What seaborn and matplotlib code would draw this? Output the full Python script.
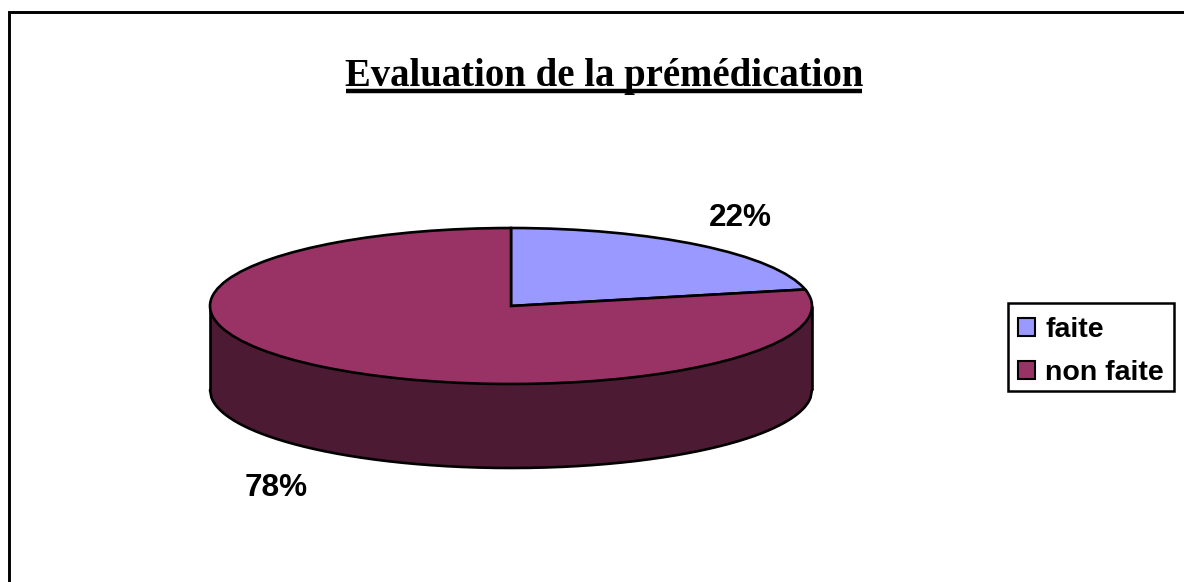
import numpy as np
import matplotlib
matplotlib.use('Agg')
import matplotlib.pyplot as plt
import seaborn as sns
from matplotlib.patches import Rectangle, Patch

labels = ['faite', 'non faite']
values = [21.6, 78.4]
pct_labels = ['22%', '78%']
colors = ['#9999FF', '#993366']
side_color = '#4D1A33'
title = 'Evaluation de la prémédication'

W, H = 1184, 582
sns.set_theme(style='white')
plt.rcParams['font.family'] = ['Liberation Sans', 'DejaVu Sans']

fig = plt.figure(figsize=(W / 100, H / 100), dpi=100, facecolor='white')
ax = fig.add_axes([0, 0, 1, 1])

# pie is drawn as a unit circle, axis limits squash it into the tilted ellipse
cx, cy, rx, ry = 511, 306, 301, 78
depth = 84 / ry

wedges, _ = ax.pie(values, colors=colors, startangle=90, counterclock=False,
                   wedgeprops={'edgecolor': 'black', 'linewidth': 1.9})
for w in wedges:
    w.set_zorder(3)

# front wall of the disc
x = np.linspace(-1, 1, 400)
front = -np.sqrt(1 - x ** 2)
ax.fill_between(x, front, front - depth, color=side_color, lw=0, zorder=1)
ax.plot(x, front - depth, color='black', lw=1.9, zorder=2)
ax.plot([-1, -1], [0, -depth], color='black', lw=1.9, zorder=2, solid_capstyle='butt')
ax.plot([1, 1], [0, -depth], color='black', lw=1.9, zorder=2, solid_capstyle='butt')

ax.set_aspect('auto')
ax.set_xlim(-cx / rx, (W - cx) / rx)
ax.set_ylim((cy - H) / ry, cy / ry)
ax.axis('off')

# percent labels
ax.text((740 - cx) / rx, (cy - 218) / ry, pct_labels[0], fontsize=22.7, fontweight='bold',
        ha='center', va='center', color='black')
ax.text((276 - cx) / rx, (cy - 488) / ry, pct_labels[1], fontsize=22.7, fontweight='bold',
        ha='center', va='center', color='black')

fig.text(604 / W, 1 - 86 / H, title, fontsize=27.9, fontweight='bold', family='Liberation Serif',
         ha='center', va='baseline', color='black')
fig.add_artist(plt.Line2D([346 / W, 862 / W], [1 - 90.5 / H] * 2, color='black', lw=3.2,
                          solid_capstyle='butt'))

# outer frame
fig.add_artist(Rectangle((9 / W, -0.05), 1.1, 1 - 11.5 / H + 0.05, fill=False, edgecolor='black',
                         lw=2.1, transform=fig.transFigure))

# legend box, frame drawn apart since the entries sit low in it
fig.add_artist(Rectangle((1008 / W, 1 - 391 / H), 166 / W, 88 / H, fill=False, edgecolor='black',
                         lw=1.8, transform=fig.transFigure))
handles = [Patch(facecolor=c, edgecolor='black', lw=1.5) for c in colors]
leg = fig.legend(handles, labels, loc='upper left', bbox_to_anchor=(1008 / W, 1 - 307 / H),
                 borderaxespad=0, fontsize=20.5, frameon=False,
                 handlelength=0.6, handleheight=0.6, handletextpad=0.35,
                 labelspacing=0.6, borderpad=0.35, labelcolor='black')
for t in leg.get_texts():
    t.set_fontweight('bold')

fig.savefig('out.png', dpi=100, facecolor='white')
